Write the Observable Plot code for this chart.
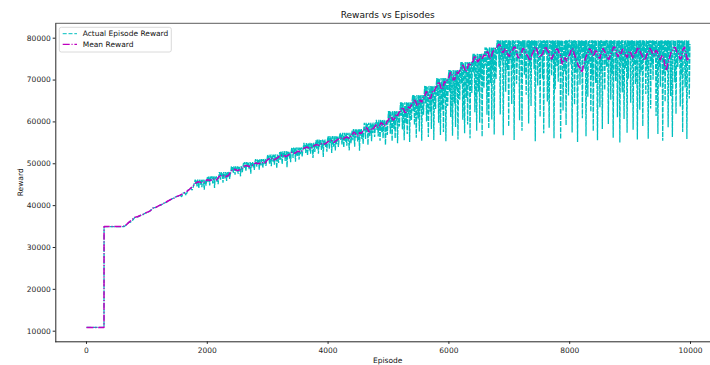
<!DOCTYPE html>
<html><head><meta charset="utf-8">
<script src="https://cdn.jsdelivr.net/npm/d3@7"></script>
<script src="https://cdn.jsdelivr.net/npm/@observablehq/plot@0.6"></script>
<style>
html,body{margin:0;padding:0;background:#fff;overflow:hidden;}
#wrap{position:relative;width:710px;height:365px;font-family:"DejaVu Sans",sans-serif;}
#wrap svg{display:block;}
#overlay{position:absolute;left:0;top:0;pointer-events:none;}
</style></head><body><div id="wrap"><div id="chart"></div></div>
<script>
// ---------- data ----------
const title = "Rewards vs Episodes";
const xLabel = "Episode";
const yLabel = "Reward";
const seriesNames = ["Actual Episode Reward", "Mean Reward"];
const xTicks = [0, 2000, 4000, 6000, 8000, 10000];
const yTicks = [10000, 20000, 30000, 40000, 50000, 60000, 70000, 80000];

// first episodes
const earlyEpisodes = [0, 290, 291];
const earlyActual = [10900, 10900, 35000];
const earlyMean = [10900, 10900, 35000];

// actual reward, every 25 episodes from 600 to 1775
const stairStart = 600, stairStep = 25;
const stairRewards = [
35000,35000,35300,35600, 36000,36000,36300,36700, 37200,37200,37300,37500,
37700,37800,38000,38200, 38400,38500,38700,39000, 39400,39500,39600,39800,
40000,40100,40300,40500, 40700,40800,41100,41300, 41500,41700,41800,42100,
42200,42300,42600,42100, 43000,43100,42500,43600, 43900,44200,43700,44800
];

// actual reward, every 10 episodes from 1800 (one line = 200 episodes)
const denseStart = 1800, denseStep = 10;
const denseRewards = [
46200,45200,46000,44600,46200,45600,44200,46200,45800,45000,46200,44400,45900,46200,45400,43800,46200,45700,44800,46000,
46800,45600,47000,46300,44800,47000,45900,46800,47000,45300,46400,47000,44200,46900,46100,47000,45700,46700,45100,47000,
48000,47400,46200,48000,47000,47800,45500,48000,47300,46500,48000,47600,45900,48000,46800,47800,48000,46400,47400,48000,
49400,48400,49200,47800,49400,48800,47400,49400,49000,48200,49400,47600,49100,49400,48600,47000,49400,48900,48000,49200,
50200,49000,50400,49700,48200,50400,49300,50200,50400,48700,49800,50400,47600,50300,49500,50400,49100,50100,48500,50400,
51100,50500,49300,51100,50100,50900,48600,51100,50400,49600,51100,50700,49000,51100,49900,50900,51100,49500,50500,51100,
52200,50900,51900,50000,52200,51300,49400,52200,51600,50500,52200,49800,51800,52200,51100,48900,52200,51500,50200,52000,
52800,51000,53000,52000,49900,53000,51500,52700,53000,50700,52200,53000,49200,52900,51800,53000,51200,52600,50400,53000,
53900,53100,51400,53900,52500,53700,50500,53900,52900,51800,53900,53400,51000,53900,52300,53600,53900,51700,53000,53900,
55000,53600,54600,52600,55000,54000,52000,55000,54400,53200,55000,52400,54500,55000,53800,51400,55000,54300,52800,54800,
55600,53600,55800,54700,52400,55800,54100,55400,55800,53300,55000,55800,51600,55700,54500,55800,53900,55300,52900,55800,
56600,55700,53600,56600,54900,56300,52600,56600,55400,54100,56600,56000,53200,56600,54700,56200,56600,54000,55600,56600,
57400,55700,57000,54600,57400,56300,53900,57400,56700,55300,57400,54300,56800,57400,56000,53200,57400,56600,54900,57100,
58000,55600,58300,57000,54100,58300,56200,57900,58300,55200,57300,58300,53100,58200,56700,58300,55900,57700,54700,58300,
59800,58600,55900,59800,57600,59500,54500,59800,58300,56600,59800,59000,55400,59800,57300,59300,59800,56400,58400,59800,
60500,58100,59900,56500,60500,58900,55500,60500,59500,57500,60500,56100,59700,60500,58500,54500,60500,59300,56900,60100,
62600,59800,62600,57200,62400,60900,55400,62600,61200,58300,62600,56100,62500,60200,62600,54900,61800,62600,58900,62600,
64700,61500,64700,58200,64500,62800,55600,64700,63300,59600,64700,57100,64600,61900,64700,55200,63700,64700,60400,64700,
66400,62600,66400,59300,66200,64100,56200,66400,64800,60800,66400,57700,66300,63200,66400,55500,65100,66400,61700,66400,
68600,64400,68600,60100,68400,65900,56400,68600,66700,62300,68600,58300,68500,64900,68600,55700,67100,68600,63100,68600,
70500,66200,70500,59800,70300,67800,56900,70500,68400,62900,70500,57600,70400,65700,70500,55400,68900,70500,63800,70500,
72400,67300,72400,61200,72200,69600,56700,72400,70100,64400,72400,58800,72300,67900,72400,55800,70800,72400,65300,72400,
74300,69200,74300,60500,74100,71400,57300,74300,72200,65700,74300,59400,74200,68600,74300,56100,72700,74300,66900,74300,
76300,71800,76300,62300,76100,73600,57900,76300,74400,67200,76300,59800,76200,70700,76300,56500,74900,76300,68100,76300,
77800,73400,77800,61700,77600,75200,58400,77800,75900,69300,77800,60600,77700,72500,77800,57000,76400,77800,70200,77800,
79500,76200,79500,73100,79400,61800,79500,77400,74600,79500,56800,79300,75300,79500,67200,79500,78100,72400,79500,58900,
79500,74800,79400,77600,64300,79500,72900,79500,55700,79300,76500,79500,69100,73800,79500,78200,79500,60400,79400,75600,
79300,57900,79500,76900,79500,71300,79500,74200,66500,79400,77800,79500,59600,79500,73500,79300,63800,79500,76100,79500,
79500,72600,79500,55400,79400,77100,79500,68700,74900,79500,78300,61200,79500,75700,79300,70400,79500,57300,79500,76600,
79400,76300,79500,64900,79500,73400,58600,79500,77900,79300,71100,79500,74800,79500,56100,79400,67800,79500,78000,73300,
79500,69600,79500,77200,79400,55900,79500,74300,79500,62700,76800,79300,72100,79500,59200,79500,75900,79400,66300,79500,
79500,78400,73700,79500,57500,79400,76000,79500,64100,79500,71800,79300,77500,55200,79500,74500,79500,68900,79400,76800,
79500,60900,79500,75100,79300,72700,79500,56600,79500,77700,66000,79400,73900,79500,78200,62400,79500,70800,79500,57800,
79400,76700,79500,69300,79500,74100,55600,79500,77300,79300,63500,79500,72200,79500,58300,79400,75800,79500,67600,79500,
79500,73200,79500,78300,59500,79400,76400,79500,65300,79500,71500,79300,56200,79500,77000,79500,69800,74700,79400,61100,
79500,77600,79500,55100,79300,74000,79500,67100,79500,76300,60700,79400,72800,79500,78100,57400,79500,70300,79500,75200,
79400,64600,79500,76900,79500,58100,79300,73600,79500,69000,77400,79500,55800,79400,75500,79500,62900,79500,71900,78000,
79500,59000,79500,74900,79400,77800,66700,79500,72500,79300,56000,79500,76200,79500,63200,79400,73700,79500,70100,79500,
79500,75400,79300,61400,79500,78000,57100,79500,73000,79400,68400,79500,76800,79500,55500,79300,71600,79500,64800,79500,
79400,72300,79500,58700,79500,77100,79300,66200,79500,74400,56400,79500,78200,79400,69500,79500,61900,75600,79500,73100,
79500,76700,79500,63700,79400,71200,79500,57600,79300,77900,79500,68200,74200,79500,55900,79400,75800,79500,65600,78600
];

// mean reward, every 50 episodes from 600 to 4350
const meanStart = 600, meanStep = 50;
const meanRewards = [
35000,35300,36000,36600,37200,37400,37700,38000,38400,38700,39400,39600,
40000,40300,40700,41100,41500,41800,42200,42500,42900,43300,43800,44500,
45300,45700,45500,45600, 46200,46000,46400,46100, 47000,47300,46900,47200,
48300,48700,48400,48600, 49400,49600,49300,49700, 50200,50000,50400,50100,
51000,51400,50900,51300, 51900,52100,51700,52200, 52700,52500,53000,52800,
53700,54000,53600,54100, 54600,54400,54900,54700, 55300,55600,55100,55700,
56200,55900,56400,56100
];
// mean reward, every 25 episodes from 4400 (one line = 200 episodes)
const meanDenseStart = 4400, meanDenseStep = 25;
const meanDenseRewards = [
56900,57600,57300,56600,56700,57500,57200,57800,
58000,58700,58400,57600,57800,58600,58300,59000,
59300,58700,59000,59800,59600,58900,59200,60100,
60500,61500,61200,60400,60800,61900,61500,62300,
62600,63500,63100,62200,62400,63600,63300,63900,
64300,65200,64900,63900,64100,65300,64700,65600,
66200,67300,66800,65600,65700,67200,67000,68000,
68500,69600,69100,67800,68000,69700,69400,70300,
70600,71800,71300,70000,70200,71900,71500,72200,
72600,73600,73100,72000,72300,73900,73400,74100,
74500,75800,75400,74300,74800,75700,75100,75900,
75800,77000,76600,75000,75300,76800,77100,77800,
77900,78600,78300,76900,76500,77500,77200,76100,
75600,76800,76900,77900,77800,76300,75200,76000,
76400,77600,77300,76200,75900,75100,74700,76100,
76800,77900,77600,76300,75400,75800,76200,77400,
78000,77200,76700,75600,75000,75900,76300,77300,
77400,76500,75800,73800,74600,75400,74500,75600,
76100,77300,77500,76200,75300,74100,73200,72900,
71800,73300,74600,75800,76400,77500,77200,76100,
75700,77000,76800,75500,75100,76600,77600,76900,
76200,75300,74900,76100,76700,77900,77800,76400,
75500,76800,76300,77400,77000,76000,75400,76600,
76900,75900,75200,76300,76600,77800,77400,76500,
75800,75000,74700,76100,76500,77600,77100,76200,
75900,77100,76800,75500,74800,75900,75600,73600,
72300,74000,75200,76500,76900,77800,77700,76600,
76400,75000,75300,77300,77900,76200,74600,75400
];

const colors = ["#00bfbf", "#bf00bf"];

// ---------- tables ----------
const actualRows = earlyEpisodes.map((e, i) => ({episode: e, reward: earlyActual[i]}))
  .concat(stairRewards.map((r, i) => ({episode: stairStart + i * stairStep, reward: r})))
  .concat(denseRewards.map((r, i) => ({episode: denseStart + i * denseStep, reward: r})));
const meanRows = earlyEpisodes.map((e, i) => ({episode: e, reward: earlyMean[i]}))
  .concat(meanRewards.map((r, i) => ({episode: meanStart + i * meanStep, reward: r})))
  .concat(meanDenseRewards.map((r, i) => ({episode: meanDenseStart + i * meanDenseStep, reward: r})));

const W = 710, H = 365, mL = 55.3, mR = 0, mT = 23.3, mB = 23.7;
const axisColor = "#333";

const marks = [
  Plot.line(actualRows, {x: "episode", y: "reward", stroke: colors[0], strokeWidth: 1.3,
    strokeDasharray: "5,1.2", strokeLinecap: "butt", strokeLinejoin: "miter"}),
  Plot.line(meanRows, {x: "episode", y: "reward", stroke: colors[1], strokeWidth: 1.5,
    strokeDasharray: "7,1.8,1.1,1.8", strokeLinecap: "butt", strokeLinejoin: "miter"})
];

const chart = Plot.plot({
  width: W, height: H,
  marginLeft: mL, marginRight: mR, marginTop: mT, marginBottom: mB,
  style: {fontFamily: "DejaVu Sans, sans-serif", fontSize: "7.5px", color: "#262626", background: "#fff"},
  x: {domain: [-508, 10331], ticks: xTicks, tickFormat: d3.format("d"), tickSize: 2.6, tickPadding: 3, label: null, line: true},
  y: {domain: [7468, 83440], ticks: yTicks, tickFormat: d3.format("d"), tickSize: 2.6, tickPadding: 2.5, label: null, line: true},
  marks
});
document.getElementById("chart").appendChild(chart);

const ns = "http://www.w3.org/2000/svg";
const ov = document.createElementNS(ns, "svg");
ov.setAttribute("id", "overlay");
ov.setAttribute("width", W); ov.setAttribute("height", H);
ov.style.fontFamily = "DejaVu Sans, sans-serif";
document.getElementById("wrap").appendChild(ov);
function el(tag, attrs, text) {
  const e = document.createElementNS(ns, tag);
  for (const k in attrs) e.setAttribute(k, attrs[k]);
  if (text != null) e.textContent = text;
  ov.appendChild(e);
  return e;
}
// top spine
el("line", {x1: mL, x2: W, y1: mT, y2: mT, stroke: axisColor, "stroke-width": 0.8});
el("text", {x: (mL + 720) / 2, y: 18, "text-anchor": "middle", "font-size": 9, fill: "#111"}, title);
el("text", {x: (mL + 720) / 2, y: 362.5, "text-anchor": "middle", "font-size": 7.5, fill: "#111"}, xLabel);
el("text", {transform: `translate(22.5,${(mT + H - mB) / 2}) rotate(-90)`, "text-anchor": "middle", "font-size": 7.5, fill: "#111"}, yLabel);
// legend
el("rect", {x: 59.3, y: 27.3, width: 112, height: 24.7, rx: 2, fill: "#fff", "fill-opacity": 0.8, stroke: "#d0d0d0", "stroke-width": 0.8});
el("line", {x1: 62.7, x2: 77, y1: 33.7, y2: 33.7, stroke: colors[0], "stroke-width": 1, "stroke-dasharray": "4,1.8"});
el("line", {x1: 62.7, x2: 77, y1: 44.3, y2: 44.3, stroke: colors[1], "stroke-width": 1.3, "stroke-dasharray": "7,1.8,1.1,1.8"});
el("text", {x: 82.7, y: 36.4, "font-size": 7.5, fill: "#111"}, seriesNames[0]);
el("text", {x: 82.7, y: 47, "font-size": 7.5, fill: "#111"}, seriesNames[1]);
</script></body></html>
